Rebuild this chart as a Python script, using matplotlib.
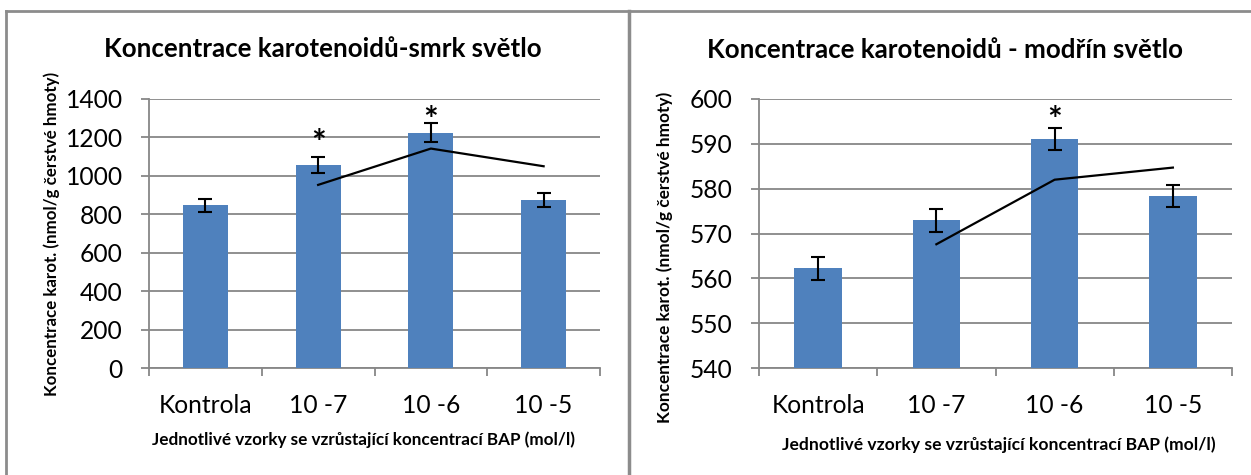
import matplotlib
matplotlib.use("Agg")
import matplotlib.pyplot as plt
from matplotlib.lines import Line2D
import numpy as np

plt.rcParams['font.family'] = ['Lato', 'DejaVu Sans']

categories = ["Kontrola", "10 -7", "10 -6", "10 -5"]

left_title = "Koncentrace karotenoidů-smrk světlo"
left_means = [847, 1058, 1225, 874]
left_err = [35, 42, 51, 36]
left_trend = [953, 1142, 1050]          # trend line at 10 -7, 10 -6, 10 -5
left_star_idx = [1, 2]
left_star_y = [1213, 1332]
left_ticks = [0, 200, 400, 600, 800, 1000, 1200, 1400]

right_title = "Koncentrace karotenoidů - modřín světlo"
right_means = [562.2, 572.9, 591.1, 578.3]
right_err = [2.5, 2.5, 2.45, 2.5]
right_trend = [567.6, 582.0, 584.7]
right_star_idx = [2]
right_star_y = [597.1]
right_ticks = [540, 550, 560, 570, 580, 590, 600]

ylabel = "Koncentrace karot. (nmol/g čerstvé hmoty)"
xlabel = "Jednotlivé vzorky se vzrůstající koncentrací BAP (mol/l)"

W, H = 1251, 475
fig = plt.figure(figsize=(W / 100, H / 100), dpi=100)
fig.patch.set_facecolor('white')

BLUE = '#4F81BD'
GRAY = '#878787'


def fx(px):
    return px / W


def fy(py):
    return 1 - py / H


def fit_text(t, target_px, renderer):
    for _ in range(3):
        bb = t.get_window_extent(renderer=renderer)
        w = bb.width if t.get_rotation() == 0 else bb.height
        if w > 0:
            t.set_fontsize(t.get_fontsize() * target_px / w)


def draw_panel(ax, means, err, trend, star_idx, star_y, ticks):
    x = np.arange(len(categories))
    ax.bar(x, means, width=0.4, color=BLUE, zorder=3)
    ax.errorbar(x, means, yerr=err, fmt='none', ecolor='black',
                elinewidth=1.5, capsize=5, capthick=1.5, zorder=4)
    ax.plot(x[1:], trend, color='black', lw=1.6, zorder=5)
    for i, yv in zip(star_idx, star_y):
        ax.annotate("*", (x[i], yv), xytext=(0, -6.5), textcoords='offset points',
                    ha='center', va='center', fontsize=25,
                    fontweight='bold', zorder=6)
    ax.set_xlim(-0.5, len(categories) - 0.5)
    ax.set_ylim(ticks[0], ticks[-1])
    ax.set_yticks(ticks)
    ax.yaxis.grid(True, color=GRAY, lw=1.3, zorder=0)
    ax.set_axisbelow(True)
    for s in ['top', 'right']:
        ax.spines[s].set_visible(False)
    for s in ['left', 'bottom']:
        ax.spines[s].set_color(GRAY)
        ax.spines[s].set_linewidth(1.3)
    ax.set_xticks(np.arange(-0.5, len(categories), 1.0))
    ax.set_xticklabels([])
    ax.set_xticks(x, minor=True)
    ax.set_xticklabels(categories, minor=True)
    ax.tick_params(axis='x', which='major', length=6, width=1.3, color=GRAY, direction='out')
    ax.tick_params(axis='x', which='minor', length=0, pad=18.5, labelsize=17.7)
    ax.tick_params(axis='y', length=6, width=1.3, color=GRAY, direction='out',
                   pad=13, labelsize=17.7)


axL = fig.add_axes([fx(149), fy(368), fx(600) - fx(149), fy(99) - fy(368)])
axR = fig.add_axes([fx(759), fy(368), fx(1232) - fx(759), fy(99) - fy(368)])
draw_panel(axL, left_means, left_err, left_trend, left_star_idx, left_star_y, left_ticks)
draw_panel(axR, right_means, right_err, right_trend, right_star_idx, right_star_y, right_ticks)

# titles and labels
tL = fig.text(fx(323), fy(57), left_title, ha='center', va='baseline', fontsize=18, fontweight='bold')
tR = fig.text(fx(945), fy(58), right_title, ha='center', va='baseline', fontsize=18, fontweight='bold')
xL = fig.text(fx(364), fy(445), xlabel, ha='center', va='baseline', fontsize=10, fontweight='bold')
xR = fig.text(fx(999), fy(450), xlabel, ha='center', va='baseline', fontsize=10, fontweight='bold')
yL = fig.text(fx(52), fy(234), ylabel, ha='center', va='center', rotation=90, fontsize=10, fontweight='bold')
yR = fig.text(fx(665), fy(257), ylabel, ha='center', va='center', rotation=90, fontsize=10, fontweight='bold')

renderer = fig.canvas.get_renderer()
fit_text(tL, 436, renderer)
fit_text(tR, 476, renderer)
fit_text(xL, 425, renderer)
fit_text(xR, 432, renderer)
fit_text(yL, 325, renderer)
fit_text(yR, 332, renderer)

# panel borders
bc = '#8c8c8c'
fig.add_artist(Line2D([fx(6), fx(6)], [fy(11), 0], color=bc, lw=2, transform=fig.transFigure))
fig.add_artist(Line2D([fx(6), 1], [fy(11), fy(11)], color=bc, lw=2, transform=fig.transFigure))
fig.add_artist(Line2D([fx(629), fx(629)], [fy(11), 0], color=bc, lw=2.5, transform=fig.transFigure))

fig.savefig("out.png", dpi=100, facecolor='white')
